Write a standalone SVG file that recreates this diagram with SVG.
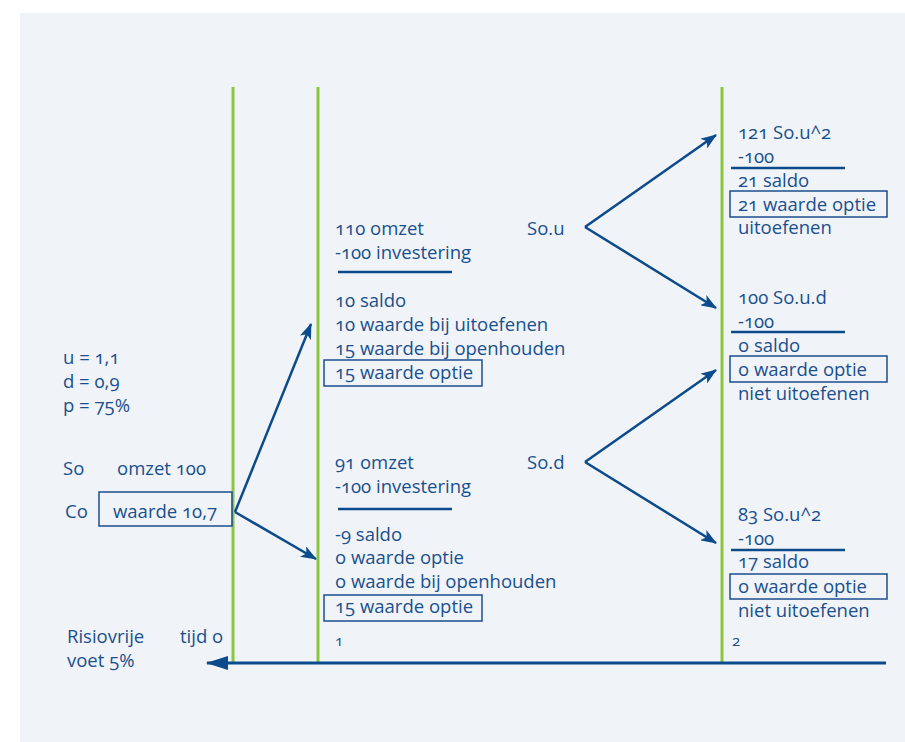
<svg xmlns="http://www.w3.org/2000/svg" width="905" height="742" viewBox="0 0 905 742">
<defs>
<marker id="ah" viewBox="0 0 16 12" refX="15" refY="6" markerWidth="16" markerHeight="12" markerUnits="userSpaceOnUse" orient="auto">
<path d="M0,0 L16,6 L0,12 L4,6 z" fill="#0b4a8b"/>
</marker>
<marker id="ah2" viewBox="0 0 22 14" refX="21" refY="7" markerWidth="22" markerHeight="14" markerUnits="userSpaceOnUse" orient="auto">
<path d="M0,0 L22,7 L0,14 z" fill="#0b4a8b"/>
</marker>
</defs>
<style>
text{font-family:"Open Sans",Lato,"Liberation Sans",sans-serif;font-size:18.5px;fill:#1a4f8e;font-variant-numeric:oldstyle-nums;}
.box{fill:none;stroke:#1a4f8e;stroke-width:1.5;}
.rule{stroke:#0b4a8b;stroke-width:2.5;}
.green{stroke:#8cc63f;stroke-width:3;}
.arr{stroke:#0b4a8b;stroke-width:2.5;fill:none;marker-end:url(#ah);}
.small{font-size:15px;}
</style>
<rect x="20" y="13" width="885" height="729" fill="#f0f4f8"/>
<g id="timelines">
<line class="green" x1="233" y1="87" x2="233" y2="663"/>
<line class="green" x1="318" y1="87" x2="318" y2="663"/>
<line class="green" x1="722" y1="87" x2="722" y2="663"/>
</g>
<g id="connectors">
<line class="arr" x1="235" y1="512" x2="311" y2="324"/>
<line class="arr" x1="235" y1="512" x2="316" y2="559"/>
<line class="arr" x1="585" y1="227" x2="716" y2="135"/>
<line class="arr" x1="585" y1="227" x2="716" y2="308"/>
<line class="arr" x1="585" y1="462" x2="716" y2="370"/>
<line class="arr" x1="585" y1="462" x2="716" y2="543"/>
<line x1="886" y1="663" x2="207" y2="663" stroke="#0b4a8b" stroke-width="3" marker-end="url(#ah2)"/>
</g>
<g id="params">
<text x="63" y="364">u = 1,1</text>
<text x="63" y="388">d = 0,9</text>
<text x="63" y="412">p = 75%</text>
</g>
<g id="node-t0">
<text x="63" y="475">So</text>
<text x="117" y="475">omzet 100</text>
<text x="65" y="518">Co</text>
<rect class="box" x="99" y="492" width="133" height="34"/>
<text x="113" y="518">waarde 10,7</text>
</g>
<g id="node-up1">
<text x="335" y="235">110 omzet</text>
<text x="335" y="259">-100 investering</text>
<line class="rule" x1="338" y1="272" x2="452" y2="272"/>
<text x="335" y="307">10 saldo</text>
<text x="335" y="331">10 waarde bij uitoefenen</text>
<text x="335" y="355">15 waarde bij openhouden</text>
<rect class="box" x="324" y="360" width="158" height="26"/>
<text x="335" y="379">15 waarde optie</text>
<text x="527" y="235">So.u</text>
</g>
<g id="node-down1">
<text x="335" y="469">91 omzet</text>
<text x="335" y="493">-100 investering</text>
<line class="rule" x1="338" y1="509" x2="452" y2="509"/>
<text x="335" y="541">-9 saldo</text>
<text x="335" y="564">o waarde optie</text>
<text x="335" y="588">o waarde bij openhouden</text>
<rect class="box" x="324" y="595" width="158" height="26"/>
<text x="335" y="613">15 waarde optie</text>
<text x="527" y="469">So.d</text>
</g>
<g id="node-uu">
<text x="738" y="139">121 So.u^2</text>
<text x="738" y="163">-100</text>
<line class="rule" x1="731" y1="168" x2="845" y2="168"/>
<text x="738" y="187">21 saldo</text>
<rect class="box" x="730" y="191" width="157" height="26"/>
<text x="738" y="211">21 waarde optie</text>
<text x="738" y="234">uitoefenen</text>
</g>
<g id="node-ud">
<text x="738" y="304">100 So.u.d</text>
<text x="738" y="328">-100</text>
<line class="rule" x1="731" y1="332" x2="845" y2="332"/>
<text x="738" y="352">o saldo</text>
<rect class="box" x="730" y="356" width="157" height="26"/>
<text x="738" y="376">o waarde optie</text>
<text x="738" y="400">niet uitoefenen</text>
</g>
<g id="node-dd">
<text x="738" y="521">83 So.u^2</text>
<text x="738" y="545">-100</text>
<line class="rule" x1="731" y1="550" x2="845" y2="550"/>
<text x="738" y="568">17 saldo</text>
<rect class="box" x="730" y="574" width="157" height="25"/>
<text x="738" y="593">o waarde optie</text>
<text x="738" y="617">niet uitoefenen</text>
</g>
<g id="axis-labels">
<text x="67" y="643">Risiovrije</text>
<text x="67" y="667">voet 5%</text>
<text x="180" y="643">tijd o</text>
<text class="small" x="335" y="646">1</text>
<text class="small" x="732" y="646">2</text>
</g>
</svg>
